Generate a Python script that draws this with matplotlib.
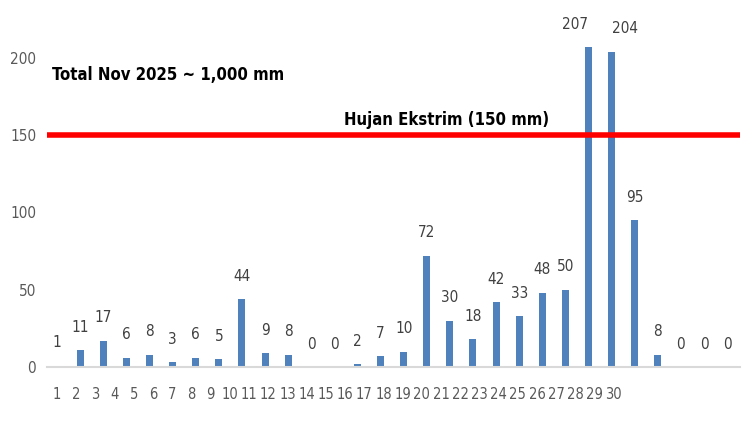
import matplotlib
matplotlib.use('Agg')
import matplotlib.pyplot as plt
import numpy as np

plt.rcParams['font.family'] = ['DejaVu Sans']
plt.rcParams['font.stretch'] = 'condensed'

days = list(range(1, 31))
rain = [1, 11, 17, 6, 8, 3, 6, 5, 44, 9, 8, 0, 0, 2, 7, 10, 72, 30, 18, 42,
        33, 48, 50, 207, 204, 95, 8, 0, 0, 0]
tick_labels = [str(d) for d in range(1, 31)]
extreme = 150

fig = plt.figure(figsize=(7.49, 4.21), dpi=100)
ax = fig.add_axes([0.063, 0.128, 0.925, 0.808])

x = np.array(days)
ax.bar(x, rain, width=0.3, color='#4f81bd', zorder=2)
for xi, v in zip(x, rain):
    ha = 'center'
    if v == 207:
        ha = 'right'
    elif v == 204:
        ha = 'left'
    ax.text(xi, v + 10, str(v), ha=ha, va='bottom', fontsize=11, color='#404040')

ax.axhline(extreme, color='#ff0000', lw=4, zorder=3)
ax.text(0.78, 189, 'Total Nov 2025 ~ 1,000 mm', fontsize=12, fontweight='bold', va='center')
ax.text(13.4, 160, 'Hujan Ekstrim (150 mm)', fontsize=12, fontweight='bold', va='center')

# the day labels are squeezed, they do not line up with the bars
label_pos = 1 + np.arange(len(tick_labels)) * 0.831
ax.set_xticks(label_pos)
ax.set_xticklabels(tick_labels, fontsize=10.5, color='#595959')
ax.tick_params(axis='x', length=0, pad=14)
ax.set_yticks([0, 50, 100, 150, 200])
ax.tick_params(axis='y', length=0, labelsize=11, labelcolor='#595959', pad=8)
ax.set_xlim(0.57, 30.56)
ax.set_ylim(0, 220)
for s in ['top', 'right', 'left']:
    ax.spines[s].set_visible(False)
ax.spines['bottom'].set_color('#d9d9d9')
ax.spines['bottom'].set_linewidth(1.5)

plt.savefig('out.png')
